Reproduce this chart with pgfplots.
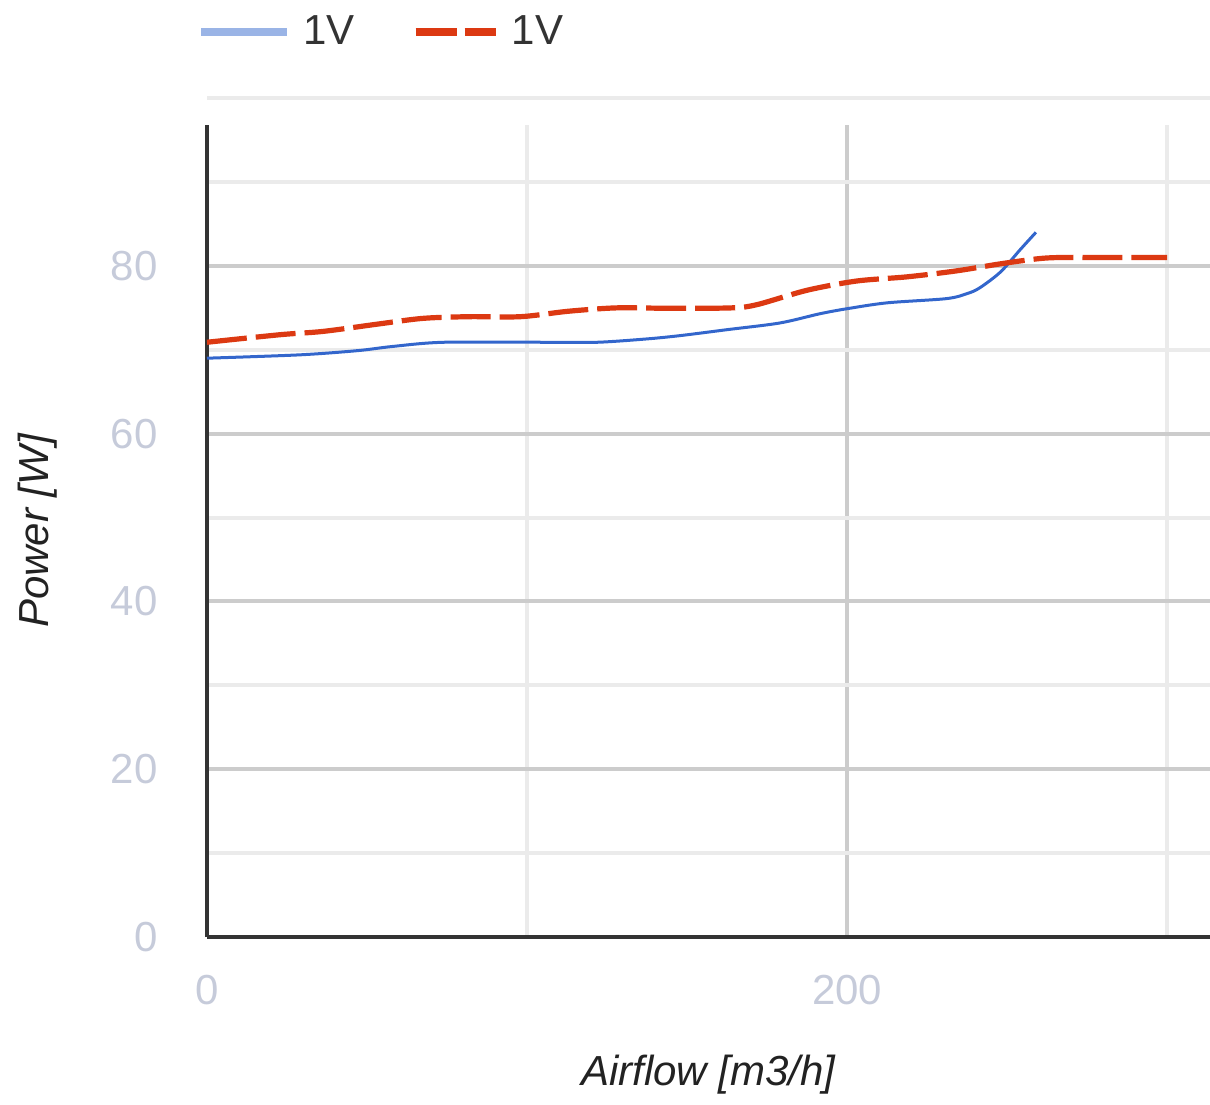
\documentclass[border=0pt]{standalone}
\usepackage{pgfplots}
\pgfplotsset{compat=1.18}
\usepackage{fontspec}
\setmainfont{Liberation Sans}
\definecolor{axisdark}{HTML}{333333}
\definecolor{gridmajor}{HTML}{CCCCCC}
\definecolor{gridminor}{HTML}{EBEBEB}
\definecolor{tickcol}{HTML}{C6CBDA}
\definecolor{blueline}{HTML}{3366CC}
\definecolor{bluelegend}{HTML}{9AB4E6}
\definecolor{redline}{HTML}{DC3912}
\definecolor{titlecol}{HTML}{222222}
\definecolor{legendtext}{HTML}{333333}
\begin{document}
\begin{tikzpicture}
\path[use as bounding box] (0,0) rectangle (605pt,552pt);
\begin{axis}[
  at={(103.5pt,83.5pt)}, anchor=south west,
  scale only axis, width=501.5pt, height=406pt,
  xmin=0, xmax=313.4, ymin=0, ymax=96.8,
  axis x line*=bottom, axis y line*=left,
  axis line style={line width=2pt, color=axisdark, -},
  xtick={0,200}, minor xtick={100,300},
  ytick={0,20,40,60,80}, minor ytick={10,30,50,70,90},
  major tick length=0pt, minor tick length=0pt,
  grid=both,
  major grid style={line width=2pt, color=gridmajor},
  minor grid style={line width=2pt, color=gridminor},
  /pgf/number format/assume math mode=true,
  tick label style={font=\fontsize{21}{25}\selectfont, text=tickcol, inner sep=0pt},
  yticklabel style={anchor=east, xshift=-24.5pt},
  xticklabel style={anchor=north, yshift=-19pt},
  xlabel={Airflow [m3/h]}, ylabel={Power [W]},
  label style={font=\fontsize{21}{25}\selectfont\itshape, text=titlecol},
  xlabel style={at={(axis description cs:0.5,-0.17)}, anchor=center},
  ylabel style={at={(axis description cs:-0.1685,0.5)}, anchor=center},
  clip=false,
  legend columns=2,
  legend style={draw=none, fill=none, inner sep=0pt,
    at={(axis description cs:-0.01,1.1145)}, anchor=west,
    font=\fontsize{21}{25}\selectfont, text=legendtext,
    /tikz/every odd column/.append style={column sep=6pt},
    /tikz/every even column/.append style={column sep=28.5pt},
    nodes={inner sep=0pt, anchor=west}},
]
\draw[gridminor, line width=2pt] (axis cs:0,100) -- (axis cs:313.4,100);
\addlegendimage{legend image code/.code={\draw[bluelegend, line width=4pt] (0pt,0pt) -- (43pt,0pt);}}
\addlegendentry{1V}
\addlegendimage{legend image code/.code={\draw[redline, line width=4pt, dash pattern=on 20.5pt off 4pt] (0pt,0pt) -- (40pt,0pt);}}
\addlegendentry{1V}
\addplot[forget plot, blueline, line width=1.5pt, smooth] coordinates {
(0,69.0)(29,69.4)(47,69.9)(58,70.4)(74,70.9)(106,70.9)(122,70.9)(137.5,71.3)(148,71.7)(162.5,72.4)(179,73.2)(191.5,74.3)(200,74.9)(212.5,75.6)(231,76.1)(237.5,76.7)(241.5,77.4)(248,79.3)(254,81.9)(259,84.0)
};
\addplot[forget plot, redline, line width=2.6pt, dash pattern=on 20pt off 4.5pt, smooth] coordinates {
(0,70.9)(22.8,71.8)(36.4,72.2)(54,73.1)(67.5,73.75)(82,73.95)(98,73.95)(113,74.6)(128,75.0)(144,74.95)(164,75.0)(172,75.4)(187.5,77.1)(203,78.2)(218.75,78.7)(234,79.4)(248.8,80.3)(262.5,80.95)(278,81.0)(300,81.0)
};
\end{axis}
\end{tikzpicture}
\end{document}
